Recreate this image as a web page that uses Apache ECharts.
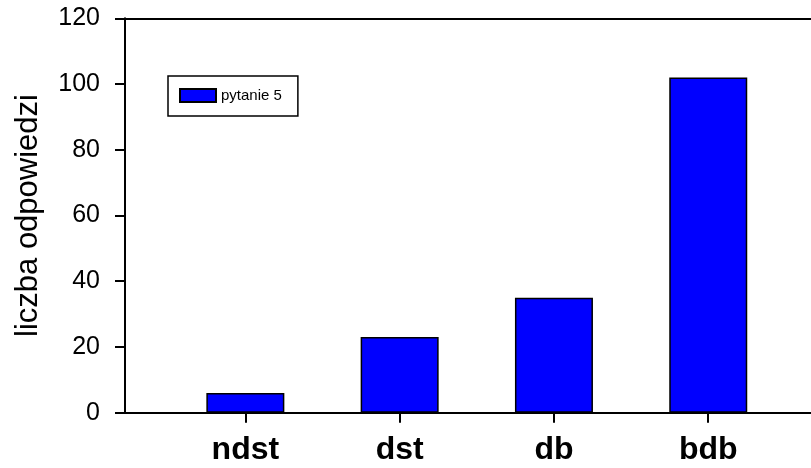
<!DOCTYPE html>
<html>
<head>
<meta charset="utf-8">
<script src="https://cdn.jsdelivr.net/npm/echarts@6/dist/echarts.min.js"></script>
<style>html,body{margin:0;padding:0;background:#fff}#c{width:811px;height:468px}</style>
</head>
<body>
<div id="c"></div>
<script>
const categories = ['ndst', 'dst', 'db', 'bdb'];
const values = [6, 23, 35, 102];
const seriesName = 'pytanie 5';
const yTicks = [0, 20, 40, 60, 80, 100, 120];

const positions = categories.map((c, i) => i + 1);
const barData = categories.map((c, i) => [positions[i], values[i]]);

const chart = echarts.init(document.getElementById('c'), null, {renderer: 'canvas'});
const font = 'Liberation Sans, Arial, sans-serif';
chart.setOption({
  animation: false,
  backgroundColor: '#fff',
  grid: {left: 125, top: 18.3, height: 394.4, width: 703.6, containLabel: false, outerBoundsMode: 'none'},
  legend: {
    left: 168, top: 76,
    orient: 'vertical',
    padding: [12, 16, 13, 11],
    borderColor: '#000', borderWidth: 1.5,
    itemWidth: 36, itemHeight: 13, itemGap: 9,
    icon: 'rect',
    textStyle: {fontFamily: font, fontSize: 15, color: '#000'},
    data: [seriesName]
  },
  xAxis: [{
    type: 'value', min: 0.22, max: 4.78,
    splitLine: {show: false},
    axisLine: {show: true, onZero: false, lineStyle: {color: '#000', width: 2}},
    axisTick: {show: true, length: 10, inside: false, customValues: positions, lineStyle: {color: '#000', width: 2}},
    axisLabel: {
      customValues: positions, margin: 21,
      fontFamily: font, fontSize: 32, fontWeight: 'bold', color: '#000',
      formatter: v => categories[Math.round(v) - 1] || ''
    }
  }, {
    type: 'value', min: 0.22, max: 4.78, position: 'top',
    splitLine: {show: false},
    axisLine: {show: true, onZero: false, lineStyle: {color: '#000', width: 2}},
    axisTick: {show: false}, axisLabel: {show: false}
  }],
  yAxis: {
    type: 'value', min: 0, max: 120, interval: 20,
    name: 'liczba odpowiedzi', nameLocation: 'middle', nameGap: 81,
    nameTextStyle: {fontFamily: font, fontSize: 31, color: '#000'},
    splitLine: {show: false},
    axisLine: {show: true, lineStyle: {color: '#000', width: 2}},
    axisTick: {show: true, length: 10, lineStyle: {color: '#000', width: 2}},
    axisLabel: {margin: 25, fontFamily: font, fontSize: 25, color: '#000',
      formatter: v => yTicks.includes(v) ? String(v) : ''}
  },
  series: [{
    name: seriesName,
    type: 'bar',
    barWidth: 78,
    data: barData,
    itemStyle: {color: '#0000ff', borderColor: '#000', borderWidth: 1.5}
  }]
});
</script>
</body>
</html>
